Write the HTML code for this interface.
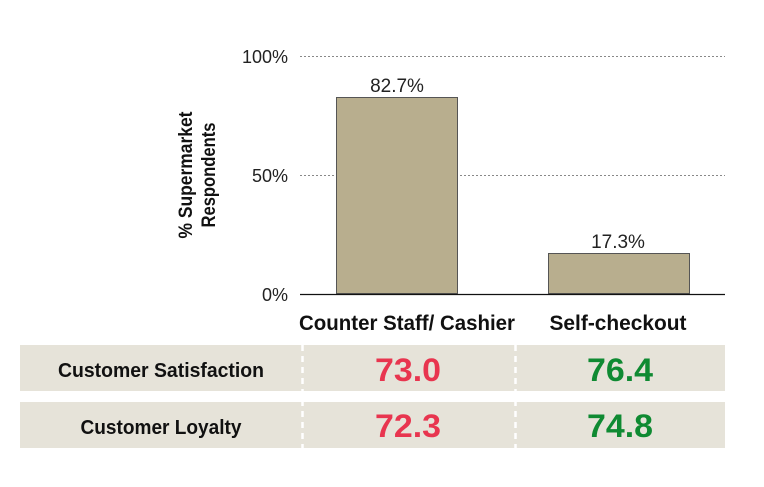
<!DOCTYPE html>
<html><head><style>
html,body{margin:0;padding:0;background:#fff;width:764px;height:487px;overflow:hidden}
svg{display:block}
</style></head><body>
<svg width="764" height="487" viewBox="0 0 764 487" xmlns="http://www.w3.org/2000/svg" font-family="Liberation Sans, sans-serif">
<line x1="300" y1="56.5" x2="725" y2="56.5" stroke="#888" stroke-dasharray="2,2" stroke-width="1"/>
<line x1="300" y1="175.5" x2="725" y2="175.5" stroke="#888" stroke-dasharray="2,2" stroke-width="1"/>
<text x="288" y="63" text-anchor="end" font-size="18" fill="#222">100%</text>
<text x="288" y="182" text-anchor="end" font-size="18" fill="#222">50%</text>
<text x="288" y="301" text-anchor="end" font-size="18" fill="#222">0%</text>
<rect x="336.5" y="97.5" width="121" height="196" fill="#b8ae8e" stroke="#555" stroke-width="1"/>
<rect x="548.5" y="253.5" width="141" height="40" fill="#b8ae8e" stroke="#555" stroke-width="1"/>
<line x1="300" y1="294.5" x2="725" y2="294.5" stroke="#111" stroke-width="1.2"/>
<text x="397" y="92" text-anchor="middle" font-size="19" fill="#222">82.7%</text>
<text x="618" y="248" text-anchor="middle" font-size="19" fill="#222">17.3%</text>
<text x="407" y="330" text-anchor="middle" font-size="21" font-weight="bold" fill="#111" textLength="216" lengthAdjust="spacingAndGlyphs">Counter Staff/ Cashier</text>
<text x="618" y="330" text-anchor="middle" font-size="21" font-weight="bold" fill="#111" textLength="137" lengthAdjust="spacingAndGlyphs">Self-checkout</text>
<g transform="translate(192,175) rotate(-90)">
<text x="0" y="0" text-anchor="middle" font-size="19" font-weight="bold" fill="#111" textLength="127" lengthAdjust="spacingAndGlyphs">% Supermarket</text>
<text x="0" y="23" text-anchor="middle" font-size="19" font-weight="bold" fill="#111" textLength="105" lengthAdjust="spacingAndGlyphs">Respondents</text>
</g>
<rect x="20" y="345" width="705" height="46" fill="#e6e3d9"/>
<rect x="20" y="402" width="705" height="46" fill="#e6e3d9"/>
<line x1="302.5" y1="345" x2="302.5" y2="448" stroke="#fff" stroke-width="2.5" stroke-dasharray="6,5"/>
<line x1="515.5" y1="345" x2="515.5" y2="448" stroke="#fff" stroke-width="2.5" stroke-dasharray="6,5"/>
<text x="161" y="377" text-anchor="middle" font-size="20" font-weight="bold" fill="#111" textLength="206" lengthAdjust="spacingAndGlyphs">Customer Satisfaction</text>
<text x="161" y="434" text-anchor="middle" font-size="20" font-weight="bold" fill="#111" textLength="161" lengthAdjust="spacingAndGlyphs">Customer Loyalty</text>
<text x="408" y="381" text-anchor="middle" font-size="32" font-weight="bold" fill="#e8354f" textLength="66" lengthAdjust="spacingAndGlyphs">73.0</text>
<text x="620" y="381" text-anchor="middle" font-size="32" font-weight="bold" fill="#0f8a32" textLength="66" lengthAdjust="spacingAndGlyphs">76.4</text>
<text x="408" y="437" text-anchor="middle" font-size="32" font-weight="bold" fill="#e8354f" textLength="66" lengthAdjust="spacingAndGlyphs">72.3</text>
<text x="620" y="437" text-anchor="middle" font-size="32" font-weight="bold" fill="#0f8a32" textLength="66" lengthAdjust="spacingAndGlyphs">74.8</text>
</svg>
</body></html>
